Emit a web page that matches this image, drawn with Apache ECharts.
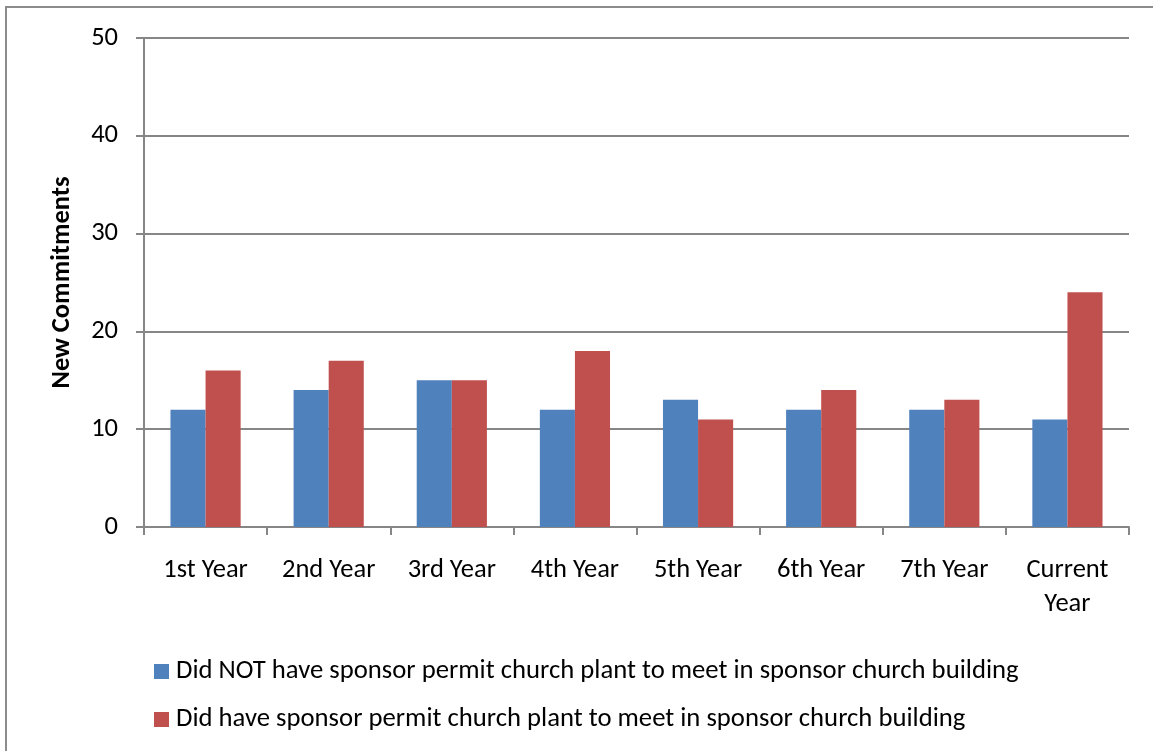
<!DOCTYPE html>
<html>
<head>
<meta charset="utf-8">
<script src="https://cdn.jsdelivr.net/npm/echarts@6/dist/echarts.min.js"></script>
<style>
html,body{margin:0;padding:0;background:#fff;}
#c{width:1153px;height:751px;}
</style>
</head>
<body>
<div id="c"></div>
<script>
var categories = ['1st Year','2nd Year','3rd Year','4th Year','5th Year','6th Year','7th Year','Current\nYear'];
var seriesNames = ['Did NOT have sponsor permit church plant to meet in sponsor church building','Did have sponsor permit church plant to meet in sponsor church building'];
var notPermitted = [12,14,15,12,13,12,12,11];
var permitted = [16,17,15,18,11,14,13,24];
var yTicks = [0,10,20,30,40,50];

var font = 'Carlito, Lato, "Open Sans", sans-serif';
var fs = 26.5;
var chart = echarts.init(document.getElementById('c'), null, {renderer:'canvas'});
chart.setOption({
  animation:false,
  backgroundColor:'#fff',
  textStyle:{fontFamily:font},
  graphic:[{type:'rect',shape:{x:6,y:7,width:1300,height:900},style:{fill:'none',stroke:'#8c8c8c',lineWidth:2},silent:true}],
  grid:{left:144,right:24,top:38,bottom:224,containLabel:false},
  legend:{orient:'vertical',left:154,top:658,padding:0,itemWidth:15,itemHeight:15,itemGap:21,icon:'rect',
    textStyle:{fontSize:26.7,color:'#000',fontFamily:font,padding:[0,0,0,2]},data:seriesNames},
  xAxis:{type:'category',data:categories,boundaryGap:true,
    axisLine:{lineStyle:{color:'#868686',width:2}},
    axisTick:{show:true,length:8,alignWithLabel:false,lineStyle:{color:'#868686',width:2}},
    axisLabel:{fontSize:fs,color:'#000',margin:26,lineHeight:34,interval:0,fontFamily:font}},
  yAxis:{type:'value',min:yTicks[0],max:yTicks[yTicks.length-1],interval:10,
    name:'New Commitments',nameLocation:'middle',nameGap:68,nameRotate:90,
    nameTextStyle:{fontSize:fs,fontWeight:'bold',color:'#000',fontFamily:font},
    axisLine:{show:true,lineStyle:{color:'#868686',width:2}},
    axisTick:{show:true,length:8,lineStyle:{color:'#868686',width:2}},
    splitLine:{lineStyle:{color:'#868686',width:2}},
    axisLabel:{fontSize:fs,color:'#000',margin:26,fontFamily:font}},
  series:[
    {name:seriesNames[0],type:'bar',data:notPermitted,barGap:'0%',barCategoryGap:'43%',itemStyle:{color:'#4F81BD'}},
    {name:seriesNames[1],type:'bar',data:permitted,barGap:'0%',barCategoryGap:'43%',itemStyle:{color:'#C0504D'}}
  ]
});
</script>
</body>
</html>
